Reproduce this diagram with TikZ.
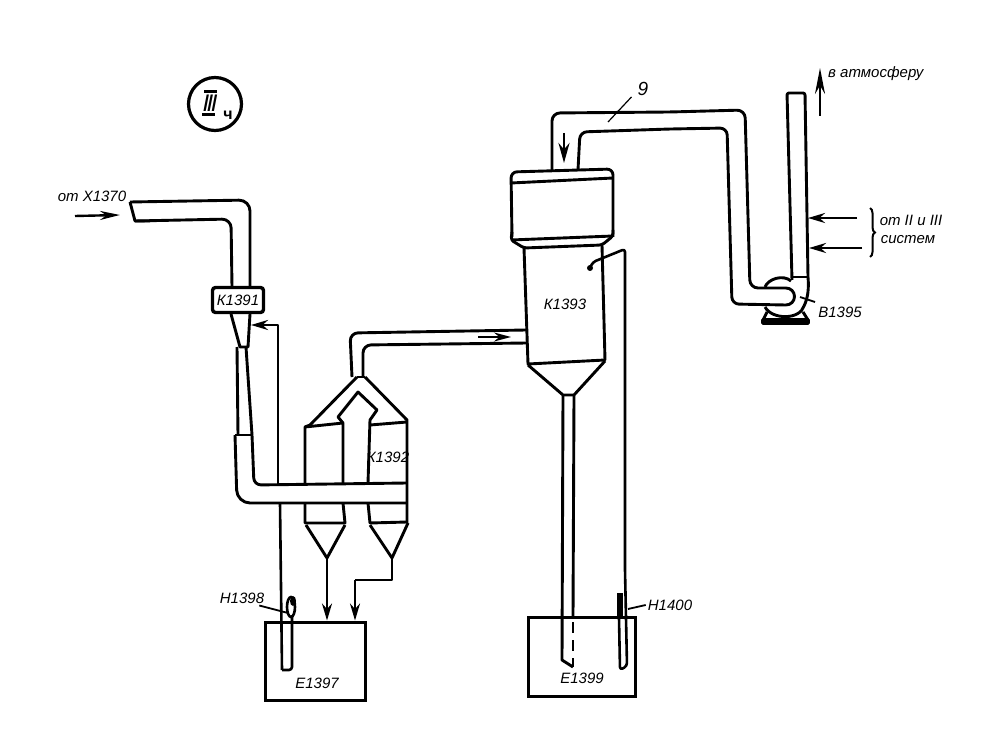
\documentclass[tikz,border=0pt]{standalone}
\usepackage{fontspec}
\setmainfont{Liberation Sans}
\usetikzlibrary{arrows.meta,decorations.pathreplacing}
\tikzstyle{pipe} = [draw=black, line width=2.9pt, line join=round]
\tikzstyle{thinpipe} = [draw=black, line width=2.6pt, line join=round]
\tikzstyle{flow} = [draw=black, line width=2.4pt, -{Stealth[length=17pt,width=10pt]}]
\tikzstyle{tankbox} = [draw=black, line width=3pt, rectangle, inner sep=0pt]
\tikzstyle{mark label} = [inner sep=0pt, font=\fontsize{15}{17}\selectfont\itshape]
\tikzstyle{leader} = [draw=black, line width=1.8pt]

\begin{document}
\begin{tikzpicture}[x=1pt, y=-1pt]
    \useasboundingbox (0,0) rectangle (996,735);

    \node [circle, draw=black, line width=3.2pt, minimum size=53pt, inner sep=0pt] (sign) at (215,104) {};
    \node [inner sep=0pt, font=\fontsize{24}{26}\selectfont\itshape] (signnum) at (210,103)
        {\hbox{I\kern-2.5pt I\kern-2.5pt I}};
    \draw [line width=3pt] (signnum.north west) ++(2,-3) -- ++(13,0);
    \draw [line width=3pt] (signnum.south west) ++(0,3) -- ++(13,0);
    \node [inner sep=0pt, font=\fontsize{16}{17}\selectfont\bfseries] (signsub) at (228,115) {ч};

    \node [mark label] (fromx) at (92,196) {от Х1370};
    \coordinate (fromxa) at (75,216);
    \coordinate (fromxb) at (120,215);
    \draw [flow, -{Stealth[length=20pt,width=9pt]}] (fromxa) -- (fromxb);

    \draw [pipe, rounded corners=11pt] (130,202) -- (250,200) -- (250,287);
    \draw [pipe, rounded corners=9pt] (135,221) -- (231,219) -- (232,287);
    \draw [pipe] (130,202) -- (135,221) -- (150,221);

    \node [draw=black, fill=white, line width=3.4pt, rounded corners=3pt, minimum width=51pt, minimum height=25pt,
        inner sep=0pt, font=\fontsize{15}{17}\selectfont\itshape] (k1391) at (238,300) {К1391};

    \draw [pipe] (231,314) -- (240,347) -- (248,347) -- (250,314);
    \draw [pipe] (237,347) -- (238,435);
    \draw [pipe] (246,347) -- (252,435);
    \draw [pipe] (235,435) -- (252,435);

    \draw [pipe, rounded corners=13pt] (235,435) -- (237,503) -- (407,503);
    \draw [pipe, rounded corners=7pt] (252,435) -- (254,485) -- (407,483);

    \coordinate (retturn) at (278,325);
    \draw [thinpipe, -{Stealth[length=17pt,width=10pt]}] (278,485) -- (retturn) -- (251,325);
    \draw [thinpipe] (280,503) -- (282,670);
    \draw [thinpipe, rounded corners=3pt] (282,670) -- (292,670) -- (292,615);
    \draw [line width=2.6pt] (291,607) ellipse (4pt and 10pt);
    \fill (293,601) ellipse (3pt and 5pt);

    \node [tankbox, minimum width=100pt, minimum height=78pt] (e1397) at (315,661) {};
    \node [mark label] (e1397t) at (317,683) {Е1397};
    \node [mark label] (h1398) at (242,598) {Н1398};
    \coordinate (h1398a) at (288,613);
    \draw [leader] (h1398.south east) ++(-5,2) -- (h1398a);

    \draw [pipe] (357,377) -- (310,425) -- (305,427) -- (305,483);
    \draw [pipe] (365,377) -- (407,420) -- (407,523);
    \draw [pipe] (357,377) -- (365,377);
    \draw [pipe] (305,427) -- (343,423) -- (343,483);
    \draw [pipe] (343,423) -- (338,417) -- (358,392) -- (377,410) -- (370,420) -- (368,483);
    \draw [pipe] (370,425) -- (407,422);

    \draw [pipe] (305,503) -- (305,523) -- (345,523) -- (343,503);
    \draw [pipe] (368,503) -- (370,523) -- (407,522);
    \draw [pipe] (306,525) -- (327,558) -- (345,525);
    \draw [pipe] (370,525) -- (392,558) -- (408,523);

    \coordinate (hopa) at (327,558);
    \coordinate (hopb) at (392,558);
    \coordinate (hopc) at (355,580);
    \draw [flow] (hopa) -- (hopa |- e1397.north);
    \draw [thinpipe] (hopb) -- (hopb |- hopc) -- (hopc);
    \draw [flow] (hopc) -- (hopc |- e1397.north);
    \node [mark label] (k1392) at (388,457) {К1392};

    \draw [pipe, rounded corners=8pt] (352,377) -- (350,333) -- (526,330);
    \draw [pipe, rounded corners=8pt] (363,377) -- (363,345) -- (527,343);
    \coordinate (ina) at (478,337);
    \coordinate (inb) at (511,337);
    \draw [flow, -{Stealth[length=17pt,width=9pt]}] (ina) -- (inb);

    \draw [pipe, rounded corners=8pt] (552,171) -- (552,113) -- (670,112) -- (745,110) -- (750,288) -- (786,288);
    \draw [pipe, rounded corners=7pt] (578,170) -- (580,132) -- (670,129) -- (727,128) -- (732,304) -- (786,305);
    \draw [pipe] (786,288) arc (-90:90:8.5);
    \coordinate (downa) at (564,133);
    \coordinate (downb) at (564,163);
    \draw [flow, line width=2.6pt, -{Stealth[length=20pt,width=11pt]}] (downa) -- (downb);

    \draw [pipe, rounded corners=6pt] (512,237) -- (511,172) -- (613,169) -- (613,237);
    \draw [pipe] (511,183) -- (613,178);
    \draw [pipe, rounded corners=3pt] (512,232) -- (511,240) -- (524,248) -- (602,245) -- (613,236) -- (613,230);
    \draw [pipe] (511,240) -- (613,236);
    \draw [pipe] (524,248) -- (528,364) -- (605,360) -- (602,245);
    \draw [pipe] (528,365) -- (563,395) -- (574,395) -- (605,361);
    \node [mark label] (k1393) at (565,304) {К1393};

    \draw [pipe] (563,396) -- (562,660) -- (573,667);
    \draw [pipe] (574,396) -- (573,617);
    \draw [pipe, dash pattern=on 11pt off 7pt] (573,622) -- (573,667);

    \fill (590,268) circle (3pt);
    \draw [thinpipe, rounded corners=3pt] (590,268) -- (593,262) -- (625,249) -- (625,570) -- (627,666) -- (620,670) -- (619,618);
    \fill (617,593) rectangle (623,617);

    \node [tankbox, minimum width=107pt, minimum height=79pt] (e1399) at (582,657) {};
    \node [mark label] (e1399t) at (582,678) {Е1399};
    \node [mark label] (h1400) at (670,605) {Н1400};
    \coordinate (h1400a) at (628,609);
    \draw [leader] (h1400.west) ++(-2,0) -- (h1400a);

    \node [mark label] (nine) at (643,89) {\fontsize{19}{20}\selectfont 9};
    \coordinate (ninea) at (608,122);
    \draw [leader, line width=1.2pt] (nine.south west) ++(-6,1) -- (ninea);

    \draw [pipe, rounded corners=2pt] (792,280) -- (787,93) -- (805,93) -- (808,277);
    \draw [pipe] (792,277) -- (808,277);
    \draw [pipe] (765,287) .. controls (768,279) and (783,274) .. (791,281);
    \draw [pipe] (765,307) .. controls (772,320) and (800,320) .. (804,306) .. controls (808,298) and (809,288) .. (808,277);
    \draw [pipe] (767,312) -- (763,320);
    \draw [pipe] (803,312) -- (808,320);
    \draw [fill=black, line width=1.6pt, rounded corners=1pt] (762,319) rectangle (809,324);

    \node [mark label] (b1395) at (840,312) {В1395};
    \coordinate (b1395a) at (800,297);
    \draw [leader] (b1395a) -- (815,302);

    \coordinate (upa) at (820,116);
    \coordinate (upb) at (820,68);
    \draw [flow, line width=2.6pt, -{Stealth[length=26pt,width=10pt]}] (upa) -- (upb);
    \node [mark label, anchor=west] (atm) at (828,74) {в атмосферу};

    \coordinate (sysa) at (857,218);
    \coordinate (sysb) at (862,248);
    \draw [flow] (sysa) -- (808,218);
    \draw [flow] (sysb) -- (809,248);
    \coordinate (bracea) at (870,208);
    \coordinate (braceb) at (870,257);
    \draw [line width=2pt, decorate, decoration={brace, amplitude=5pt}] (bracea) -- (braceb);
    \node [mark label] (sys1) at (911,220) {от II и III};
    \node [mark label] (sys2) at (908,240) {систем};
\end{tikzpicture}
\end{document}
